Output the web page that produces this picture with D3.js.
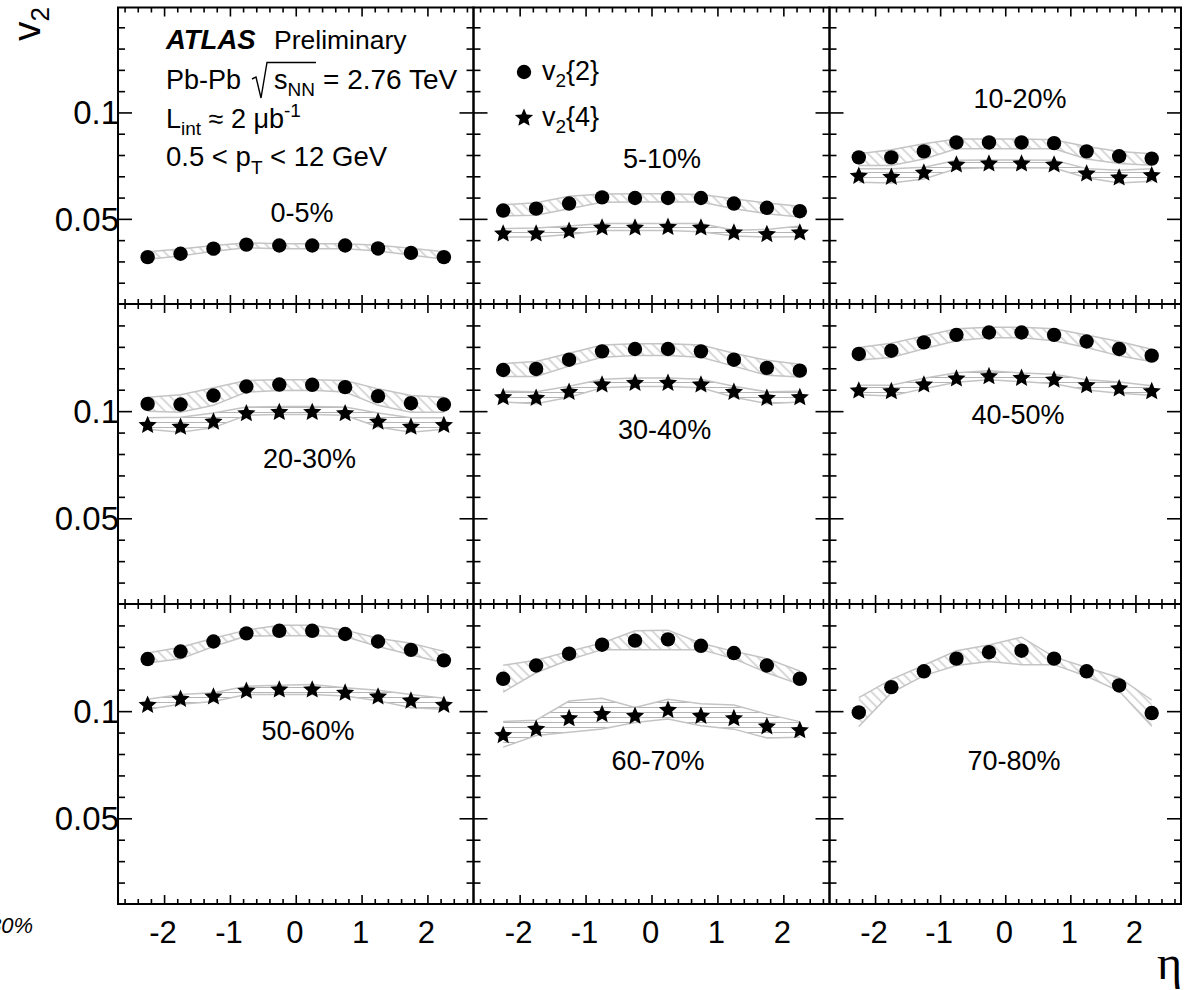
<!DOCTYPE html>
<html>
<head>
<meta charset="utf-8">
<script src="https://cdn.jsdelivr.net/npm/d3@7"></script>
<style>
  body { margin: 0; background: #fff; }
  text { font-family: "Liberation Sans", Arial, Helvetica, sans-serif; fill: #000; }
</style>
</head>
<body>
<svg id="chart" width="1188" height="990"></svg>
<script>
// eta bin centres shared by every panel
const ETA = [-2.25, -1.75, -1.25, -0.75, -0.25, 0.25, 0.75, 1.25, 1.75, 2.25];

const CENTRALITY = ["0-5%", "5-10%", "10-20%", "20-30%", "30-40%", "40-50%", "50-60%", "60-70%", "70-80%"];

// v2{2}, one row per centrality bin
const V2_2 = [
  [0.0320, 0.0336, 0.0360, 0.0379, 0.0375, 0.0375, 0.0375, 0.0361, 0.0340, 0.0320],
  [0.0539, 0.0548, 0.0572, 0.0601, 0.0598, 0.0598, 0.0598, 0.0572, 0.0552, 0.0536],
  [0.0789, 0.0789, 0.0817, 0.0859, 0.0859, 0.0859, 0.0856, 0.0817, 0.0794, 0.0783],
  [0.1034, 0.1031, 0.1073, 0.1115, 0.1124, 0.1123, 0.1112, 0.1070, 0.1037, 0.1031],
  [0.1192, 0.1197, 0.1240, 0.1279, 0.1290, 0.1290, 0.1279, 0.1240, 0.1202, 0.1189],
  [0.1267, 0.1282, 0.1321, 0.1356, 0.1367, 0.1367, 0.1356, 0.1325, 0.1290, 0.1259],
  [0.1243, 0.1278, 0.1325, 0.1363, 0.1375, 0.1375, 0.1360, 0.1325, 0.1286, 0.1237],
  [0.1151, 0.1213, 0.1268, 0.1310, 0.1329, 0.1335, 0.1305, 0.1271, 0.1213, 0.1151],
  [0.0994, 0.1112, 0.1186, 0.1245, 0.1275, 0.1282, 0.1245, 0.1186, 0.1120, 0.0991],
];
const V2_2_SYS_UP = [
  [0.0025, 0.0022, 0.0015, 0.0008, 0.0008, 0.0008, 0.0008, 0.0015, 0.0022, 0.0025],
  [0.0027, 0.0028, 0.0034, 0.0016, 0.0020, 0.0020, 0.0016, 0.0022, 0.0022, 0.0023],
  [0.0017, 0.0036, 0.0036, 0.0016, 0.0016, 0.0016, 0.0016, 0.0023, 0.0023, 0.0023],
  [0.0031, 0.0046, 0.0036, 0.0028, 0.0022, 0.0023, 0.0031, 0.0034, 0.0036, 0.0034],
  [0.0030, 0.0035, 0.0030, 0.0030, 0.0025, 0.0025, 0.0030, 0.0030, 0.0035, 0.0030],
  [0.0030, 0.0035, 0.0030, 0.0028, 0.0025, 0.0025, 0.0028, 0.0030, 0.0035, 0.0030],
  [0.0028, 0.0020, 0.0015, 0.0015, 0.0026, 0.0026, 0.0018, 0.0015, 0.0031, 0.0042],
  [0.0063, 0.0025, 0.0011, 0.0008, 0.0046, 0.0043, 0.0012, 0.0008, 0.0032, 0.0036],
  [0.0069, 0.0036, 0.0028, 0.0037, 0.0034, 0.0063, 0.0008, 0.0018, 0.0036, 0.0061],
];
const V2_2_SYS_DOWN = [
  [0.0010, 0.0010, 0.0012, 0.0015, 0.0015, 0.0015, 0.0015, 0.0012, 0.0010, 0.0010],
  [0.0025, 0.0031, 0.0025, 0.0023, 0.0019, 0.0019, 0.0019, 0.0025, 0.0028, 0.0027],
  [0.0038, 0.0038, 0.0036, 0.0030, 0.0030, 0.0030, 0.0027, 0.0036, 0.0034, 0.0031],
  [0.0034, 0.0036, 0.0046, 0.0026, 0.0028, 0.0026, 0.0023, 0.0043, 0.0042, 0.0036],
  [0.0030, 0.0035, 0.0030, 0.0028, 0.0030, 0.0030, 0.0028, 0.0030, 0.0035, 0.0030],
  [0.0028, 0.0032, 0.0030, 0.0028, 0.0025, 0.0025, 0.0028, 0.0028, 0.0032, 0.0028],
  [0.0018, 0.0034, 0.0023, 0.0012, 0.0023, 0.0023, 0.0012, 0.0023, 0.0023, 0.0012],
  [0.0062, 0.0034, 0.0028, 0.0023, 0.0043, 0.0049, 0.0018, 0.0026, 0.0034, 0.0026],
  [0.0066, 0.0026, 0.0020, 0.0032, 0.0043, 0.0065, 0.0028, 0.0023, 0.0026, 0.0061],
];

// v2{4}; not measured in the most central and most peripheral bins
const V2_4 = [
  null,
  [0.0434, 0.0434, 0.0447, 0.0462, 0.0462, 0.0465, 0.0462, 0.0439, 0.0431, 0.0439],
  [0.0705, 0.0700, 0.0720, 0.0758, 0.0763, 0.0763, 0.0758, 0.0716, 0.0697, 0.0708],
  [0.0938, 0.0930, 0.0954, 0.0993, 0.0999, 0.0999, 0.0993, 0.0954, 0.0930, 0.0938],
  [0.1068, 0.1065, 0.1093, 0.1127, 0.1135, 0.1135, 0.1127, 0.1093, 0.1065, 0.1068],
  [0.1099, 0.1096, 0.1127, 0.1155, 0.1166, 0.1158, 0.1150, 0.1124, 0.1109, 0.1096],
  [0.1032, 0.1060, 0.1071, 0.1098, 0.1104, 0.1104, 0.1089, 0.1071, 0.1052, 0.1032],
  [0.0891, 0.0920, 0.0970, 0.0989, 0.0981, 0.1009, 0.0981, 0.0970, 0.0932, 0.0914],
  null,
];
const V2_4_SYS_UP = [
  null,
  [0.0020, 0.0023, 0.0019, 0.0016, 0.0016, 0.0013, 0.0016, 0.0008, 0.0019, 0.0027],
  [0.0031, 0.0036, 0.0023, 0.0017, 0.0013, 0.0013, 0.0017, 0.0020, 0.0031, 0.0028],
  [0.0031, 0.0042, 0.0037, 0.0026, 0.0023, 0.0023, 0.0026, 0.0037, 0.0039, 0.0031],
  [0.0025, 0.0025, 0.0023, 0.0022, 0.0020, 0.0020, 0.0022, 0.0023, 0.0025, 0.0025],
  [0.0022, 0.0025, 0.0027, 0.0024, 0.0022, 0.0020, 0.0022, 0.0022, 0.0027, 0.0022],
  [0.0023, 0.0018, 0.0015, 0.0018, 0.0017, 0.0020, 0.0020, 0.0026, 0.0026, 0.0028],
  [0.0061, 0.0038, 0.0077, 0.0071, 0.0036, 0.0046, 0.0054, 0.0059, 0.0054, 0.0037],
  null,
];
const V2_4_SYS_DOWN = [
  null,
  [0.0019, 0.0019, 0.0020, 0.0017, 0.0017, 0.0020, 0.0023, 0.0020, 0.0016, 0.0023],
  [0.0033, 0.0031, 0.0033, 0.0022, 0.0023, 0.0023, 0.0019, 0.0023, 0.0028, 0.0031],
  [0.0023, 0.0028, 0.0031, 0.0012, 0.0015, 0.0015, 0.0012, 0.0028, 0.0028, 0.0023],
  [0.0025, 0.0030, 0.0028, 0.0018, 0.0020, 0.0020, 0.0018, 0.0028, 0.0030, 0.0025],
  [0.0022, 0.0025, 0.0022, 0.0020, 0.0020, 0.0020, 0.0022, 0.0025, 0.0025, 0.0022],
  [0.0023, 0.0028, 0.0026, 0.0020, 0.0026, 0.0026, 0.0018, 0.0023, 0.0036, 0.0023],
  [0.0059, 0.0034, 0.0069, 0.0072, 0.0034, 0.0046, 0.0049, 0.0054, 0.0057, 0.0036],
  null,
];

const X_TICKS = [-2, -1, 0, 1, 2];
const Y_TICKS = [0.05, 0.1];

// where each centrality label sits, in (eta, v2) of its own panel
const LABEL_ETA = [0.095, 0.159, 0.227, 0.209, 0.199, 0.196, 0.186, 0.098, 0.135];
const LABEL_V = [0.0485, 0.0739, 0.1021, 0.0735, 0.0869, 0.094, 0.0865, 0.0725, 0.0725];

// layout
const COL_EDGES = [118, 473.5, 829.5, 1181];
const ROW_EDGES = [7.5, 304, 604, 904];
const X_DOMAIN = [-2.7, 2.7];
const Y_DOMAINS = [[0.01, 0.1493], [0.01, 0.15], [0.01, 0.15]];
const X_MINOR = d3.range(-26, 27, 2).map((d) => d / 10).filter((d) => !Number.isInteger(d));
const Y_MINOR = d3.range(2, 15).map((d) => d / 100).filter((d) => d !== 0.05 && d !== 0.1);

const BAND_LINE = "#c4c4c4";
const HATCH = "#ababab";
const STAR_R = 9.6;

const svg = d3.select("#chart");
const defs = svg.append("defs");

defs.append("pattern")
  .attr("id", "hatch-diag")
  .attr("patternUnits", "userSpaceOnUse")
  .attr("width", 7)
  .attr("height", 7)
  .attr("patternTransform", "rotate(-45)")
  .append("line")
  .attr("x1", 1).attr("y1", 0).attr("x2", 1).attr("y2", 7)
  .attr("stroke", HATCH).attr("stroke-width", 0.9);

defs.append("pattern")
  .attr("id", "hatch-horiz")
  .attr("patternUnits", "userSpaceOnUse")
  .attr("width", 10)
  .attr("height", 5)
  .append("line")
  .attr("x1", 0).attr("y1", 2.5).attr("x2", 10).attr("y2", 2.5)
  .attr("stroke", HATCH).attr("stroke-width", 0.9);

// five-pointed star, a bit fatter than d3.symbolStar
function starPath(R) {
  const pts = d3.range(10).map((k) => {
    const a = -Math.PI / 2 + (k * Math.PI) / 5;
    const rad = k % 2 ? R * 0.46 : R;
    return [rad * Math.cos(a), rad * Math.sin(a)];
  });
  return "M" + pts.map((p) => p.join(",")).join("L") + "Z";
}
const STAR = starPath(STAR_R);

function drawBand(g, x, y, values, up, down, patternId) {
  const area = d3.area()
    .x((d, i) => x(ETA[i]))
    .y0((d, i) => y(values[i] - down[i]))
    .y1((d, i) => y(values[i] + up[i]));
  g.append("path").attr("d", area(values)).attr("fill", `url(#${patternId})`);

  const upper = d3.line().x((d, i) => x(ETA[i])).y((d, i) => y(values[i] + up[i]));
  const lower = d3.line().x((d, i) => x(ETA[i])).y((d, i) => y(values[i] - down[i]));
  [upper, lower].forEach((line) => {
    g.append("path")
      .attr("d", line(values))
      .attr("fill", "none")
      .attr("stroke", BAND_LINE)
      .attr("stroke-width", 1.5);
  });
}

function drawAxis(g, axis, transform) {
  const a = g.append("g").attr("transform", transform).call(axis);
  a.select(".domain").remove();
  a.selectAll("line").attr("stroke", "#000").attr("stroke-width", 1.6);
}

CENTRALITY.forEach((label, i) => {
  const row = Math.floor(i / 3);
  const col = i % 3;
  const x = d3.scaleLinear().domain(X_DOMAIN).range([COL_EDGES[col], COL_EDGES[col + 1]]);
  const y = d3.scaleLinear().domain(Y_DOMAINS[row]).range([ROW_EDGES[row + 1], ROW_EDGES[row]]);
  const [x0, x1] = x.range();
  const [y1, y0] = y.range();
  const g = svg.append("g").attr("class", "panel");

  // ticks pointing inwards on all four sides
  [[X_TICKS, 9], [X_MINOR, 5]].forEach(([values, size]) => {
    drawAxis(g, d3.axisBottom(x).tickValues(values).tickSize(-size).tickFormat(""), `translate(0,${y1})`);
    drawAxis(g, d3.axisTop(x).tickValues(values).tickSize(-size).tickFormat(""), `translate(0,${y0})`);
  });
  [[Y_TICKS, 14], [Y_MINOR, 7]].forEach(([values, size]) => {
    drawAxis(g, d3.axisLeft(y).tickValues(values).tickSize(-size).tickFormat(""), `translate(${x0},0)`);
    drawAxis(g, d3.axisRight(y).tickValues(values).tickSize(-size).tickFormat(""), `translate(${x1},0)`);
  });

  g.append("rect")
    .attr("x", x0).attr("y", y0)
    .attr("width", x1 - x0).attr("height", y1 - y0)
    .attr("fill", "none").attr("stroke", "#000").attr("stroke-width", 2);

  drawBand(g, x, y, V2_2[i], V2_2_SYS_UP[i], V2_2_SYS_DOWN[i], "hatch-diag");
  if (V2_4[i]) {
    drawBand(g, x, y, V2_4[i], V2_4_SYS_UP[i], V2_4_SYS_DOWN[i], "hatch-horiz");
  }

  g.append("g").selectAll("circle")
    .data(V2_2[i])
    .join("circle")
    .attr("cx", (d, k) => x(ETA[k]))
    .attr("cy", (d) => y(d))
    .attr("r", 7.2)
    .attr("fill", "#000");

  if (V2_4[i]) {
    g.append("g").selectAll("path")
      .data(V2_4[i])
      .join("path")
      .attr("d", STAR)
      .attr("transform", (d, k) => `translate(${x(ETA[k])},${y(d) + 0.9})`)
      .attr("fill", "#000");
  }

  g.append("text")
    .attr("x", x(LABEL_ETA[i]))
    .attr("y", y(LABEL_V[i]))
    .attr("text-anchor", "middle")
    .attr("font-size", 27)
    .text(label);

  if (col === 0) {
    g.selectAll("text.ylab")
      .data(Y_TICKS)
      .join("text")
      .attr("class", "ylab")
      .attr("x", x0 + 1)
      .attr("y", (d) => y(d) + 12)
      .attr("text-anchor", "end")
      .attr("font-size", 33)
      .text((d) => String(d));
  }
  if (row === 2) {
    g.selectAll("text.xlab")
      .data(X_TICKS)
      .join("text")
      .attr("class", "xlab")
      .attr("x", (d) => x(d) - 1)
      .attr("y", y1 + 38.5)
      .attr("text-anchor", "middle")
      .attr("font-size", 31)
      .text((d) => String(d));
  }
});

// axis titles
const yTitle = svg.append("text")
  .attr("transform", "translate(40,7) rotate(-90)")
  .attr("text-anchor", "end")
  .attr("font-size", 39);
yTitle.append("tspan").text("v");
yTitle.append("tspan").attr("font-size", 26).attr("dy", 9).text("2");

svg.append("text")
  .attr("x", 1182)
  .attr("y", 979)
  .attr("text-anchor", "end")
  .attr("font-size", 48)
  .style("font-family", "'Liberation Serif', 'DejaVu Serif', serif")
  .text("η");

// label left over at the bottom-left corner, cut by the edge as in the original
svg.append("text")
  .attr("x", 33)
  .attr("y", 933)
  .attr("text-anchor", "end")
  .attr("font-size", 22)
  .attr("font-style", "italic")
  .text("70-80%");

// ATLAS block in the first panel
const TX = 166;
svg.append("text")
  .attr("x", TX).attr("y", 49)
  .attr("font-size", 27.5).attr("font-weight", "bold").attr("font-style", "italic")
  .text("ATLAS");
svg.append("text")
  .attr("x", 274).attr("y", 49)
  .attr("font-size", 26.5)
  .text("Preliminary");

const energy = svg.append("text").attr("x", TX).attr("y", 89).attr("font-size", 27);
energy.append("tspan").text("Pb-Pb");
energy.append("tspan").attr("x", 274).text("s");
energy.append("tspan").attr("font-size", 19).attr("dy", 7).text("NN");
energy.append("tspan").attr("x", 323).attr("dy", -7).attr("font-size", 28).text("= 2.76 TeV");
{
  const node = energy.node();
  const nnEnd = node.getEndPositionOfChar(7).x;
  const b = 89;
  svg.append("path")
    .attr("d", `M252,${b - 10} L256,${b - 12} L261,${b + 9} L267,${b - 26.5} L${nnEnd + 1},${b - 26.5}`)
    .attr("fill", "none")
    .attr("stroke", "#000")
    .attr("stroke-width", 1.4);
}

const lumi = svg.append("text").attr("x", TX).attr("y", 128).attr("font-size", 27);
lumi.append("tspan").text("L");
lumi.append("tspan").attr("font-size", 19).attr("dy", 7).text("int");
lumi.append("tspan").attr("dy", -7).text(" ≈ 2 μb");
lumi.append("tspan").attr("font-size", 19).attr("dy", -11).text("-1");

const pt = svg.append("text").attr("x", TX).attr("y", 166).attr("font-size", 27.5);
pt.append("tspan").text("0.5 < p");
pt.append("tspan").attr("font-size", 19).attr("dy", 8).text("T");
pt.append("tspan").attr("dy", -8).text(" < 12 GeV");

// legend in the second panel
const LEGEND = [
  { order: "2", y: 72 },
  { order: "4", y: 118 },
];
LEGEND.forEach((entry, k) => {
  if (k === 0) {
    svg.append("circle").attr("cx", 524).attr("cy", entry.y).attr("r", 7.2).attr("fill", "#000");
  } else {
    svg.append("path").attr("d", STAR).attr("transform", `translate(524,${entry.y})`).attr("fill", "#000");
  }
  const t = svg.append("text").attr("x", 542).attr("y", entry.y + 8).attr("font-size", 27);
  t.append("tspan").text("v");
  t.append("tspan").attr("font-size", 19).attr("dy", 7).text("2");
  t.append("tspan").attr("dy", -7).text(`{${entry.order}}`);
});
</script>
</body>
</html>
